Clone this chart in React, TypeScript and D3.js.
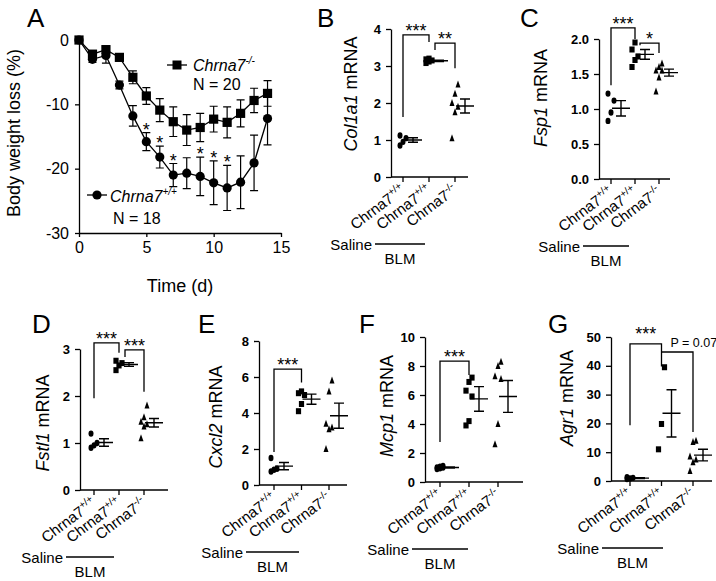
import * as d3 from "d3";
import React, { useEffect, useRef } from "react";

// ---- A: body weight loss ----
const days = [0, 1, 2, 3, 4, 5, 6, 7, 8, 9, 10, 11, 12, 13, 14];
const koLoss = [0, -2.2, -1.5, -2.7, -5.8, -8.7, -10.9, -12.7, -14.0, -13.6, -12.3, -12.8, -11.4, -9.4, -8.3];
const koSem = [0, 0.4, 0.6, 0.5, 1.0, 1.3, 1.8, 2.3, 2.4, 2.2, 2.0, 2.4, 2.1, 1.9, 2.0];
const wtLoss = [0, -3.0, -2.4, -7.0, -11.8, -15.8, -18.2, -21.0, -20.7, -21.2, -22.2, -23.0, -22.1, -19.1, -12.2];
const wtSem = [0, 0.5, 1.2, 0.6, 1.6, 1.4, 1.7, 1.8, 2.4, 3.0, 3.4, 3.5, 4.1, 4.3, 4.1];
const starDays = [5, 6, 7, 9, 10, 11];
const timeTicks = [0, 5, 10, 15];
const lossTicks = [0, -10, -20, -30];

// ---- B-G: mRNA ----
const groups = ["salWT", "blmWT", "blmKO"];
const groupSup = ["+/+", "+/+", "-/-"];
const shapes = ["circle", "square", "triangle"];

const col1a1Pts = [[0.85, 0.95, 1.05, 1.12], [3.08, 3.12, 3.15, 3.18, 3.2], [1.05, 1.75, 1.9, 2.0, 2.25, 2.5]];
const col1a1Mean = [1.0, 3.14, 1.92];
const col1a1Sem = [0.06, 0.02, 0.19];
const col1a1Sig = [
  { a: 0, b: 1, top: 3.84, l: 1.62, r: 3.65, label: "***" },
  { a: 1, b: 2, top: 3.62, l: 3.43, r: 2.94, label: "**" },
];

const fsp1Pts = [[0.83, 0.95, 1.12, 1.22], [1.6, 1.7, 1.75, 1.85, 1.95], [1.25, 1.45, 1.55, 1.55, 1.6, 1.65]];
const fsp1Mean = [1.01, 1.78, 1.52];
const fsp1Sem = [0.11, 0.07, 0.05];
const fsp1Sig = [
  { a: 0, b: 1, top: 2.16, l: 1.34, r: 2.0, label: "***" },
  { a: 1, b: 2, top: 1.94, l: 1.91, r: 1.8, label: "*" },
];

const fstl1Pts = [[0.9, 0.95, 1.0, 1.2], [2.55, 2.65, 2.7, 2.75], [1.1, 1.35, 1.4, 1.45, 1.55, 1.8]];
const fstl1Mean = [1.01, 2.67, 1.43];
const fstl1Sem = [0.08, 0.04, 0.09];
const fstl1Sig = [
  { a: 0, b: 1, top: 3.13, l: 1.95, r: 2.92, label: "***" },
  { a: 1, b: 2, top: 2.98, l: 2.83, r: 2.09, label: "***" },
];

const cxcl2Pts = [[0.75, 0.85, 0.9, 1.5], [4.1, 4.5, 5.0, 5.1, 5.2], [2.0, 3.1, 3.2, 3.4, 5.2, 5.8]];
const cxcl2Mean = [1.05, 4.77, 3.85];
const cxcl2Sem = [0.2, 0.28, 0.7];
const cxcl2Sig = [{ a: 0, b: 1, top: 6.44, l: 1.83, r: 5.7, label: "***" }];

const mcp1Pts = [[0.9, 0.95, 1.0, 1.0, 1.05, 1.1], [3.9, 4.2, 5.9, 6.3, 6.9, 7.2], [2.6, 4.0, 7.1, 7.3, 8.0, 8.3]];
const mcp1Mean = [1.0, 5.73, 5.9];
const mcp1Sem = [0.03, 0.85, 1.1];
const mcp1Sig = [{ a: 0, b: 1, top: 8.34, l: 2.76, r: 7.38, label: "***" }];

const agr1Pts = [[0.7, 0.9, 1.1, 1.3], [11, 19.8, 39.5], [3.5, 6.5, 7.5, 8.5, 13.5, 14.0]];
const agr1Mean = [1.0, 23.5, 9.0];
const agr1Sem = [0.15, 8.2, 2.0];
const agr1Sig = [
  { a: 0, b: 1, top: 47.6, l: 19.4, r: 39.8, label: "***", at: 52.5 },
  { a: 1, b: 2, top: 44.8, l: 44.8, r: 17, label: "P = 0.07" },
];

const panels = [
  { letter: "B", gene: "Col1a1", pts: col1a1Pts, mean: col1a1Mean, sem: col1a1Sem, sig: col1a1Sig, ticks: [0, 1, 2, 3, 4], fmt: "d" },
  { letter: "C", gene: "Fsp1", pts: fsp1Pts, mean: fsp1Mean, sem: fsp1Sem, sig: fsp1Sig, ticks: [0, 0.5, 1, 1.5, 2], fmt: ".1f" },
  { letter: "D", gene: "Fstl1", pts: fstl1Pts, mean: fstl1Mean, sem: fstl1Sem, sig: fstl1Sig, ticks: [0, 1, 2, 3], fmt: "d" },
  { letter: "E", gene: "Cxcl2", pts: cxcl2Pts, mean: cxcl2Mean, sem: cxcl2Sem, sig: cxcl2Sig, ticks: [0, 2, 4, 6, 8], fmt: "d" },
  { letter: "F", gene: "Mcp1", pts: mcp1Pts, mean: mcp1Mean, sem: mcp1Sem, sig: mcp1Sig, ticks: [0, 2, 4, 6, 8, 10], fmt: "d" },
  { letter: "G", gene: "Agr1", pts: agr1Pts, mean: agr1Mean, sem: agr1Sem, sig: agr1Sig, ticks: [0, 10, 20, 30, 40, 50], fmt: "d" },
];

// pixel layout of each small panel
const layout = {
  B: { left: 391, right: 468, first: 403, last: 455, top: 29, bottom: 177, lx: 317, ly: 27, yx: 357, yy: 94, shift: 6 },
  C: { left: 599, right: 670, first: 611, last: 659, top: 39, bottom: 179, lx: 520, ly: 27, yx: 547, yy: 98, shift: 5 },
  D: { left: 80, right: 168, first: 94, last: 144, top: 349, bottom: 490, lx: 32, ly: 333, yx: 49, yy: 423, shift: 6 },
  E: { left: 259, right: 347, first: 274, last: 329, top: 341, bottom: 485, lx: 198, ly: 333, yx: 222, yy: 417, shift: 0 },
  F: { left: 425, right: 523, first: 440, last: 498, top: 337, bottom: 482, lx: 359, ly: 333, yx: 393, yy: 406, shift: 0 },
  G: { left: 611, right: 712, first: 630, last: 693, top: 337, bottom: 481, lx: 548, ly: 333, yx: 573, yy: 398, shift: 0 },
};

const FONT = "Arial, 'Liberation Sans', sans-serif";

function App() {
  const ref = useRef<SVGSVGElement>(null);

  useEffect(() => draw(), []);

  function draw() {
    const svg = d3.select(ref.current);
    svg.selectAll("*").remove();
    drawWeight(svg);
    panels.forEach((p) => drawPanel(svg, p, layout[p.letter]));
  }

  function styleAxis(g, size, bold) {
    g.selectAll("path, line").attr("stroke", "#000").attr("stroke-width", 1.3);
    g.selectAll("text")
      .attr("fill", "#000")
      .attr("font-family", FONT)
      .attr("font-size", size)
      .attr("font-weight", bold ? "bold" : "normal");
  }

  function drawWeight(svg) {
    const x = d3.scaleLinear().domain([0, 15]).range([79, 281]);
    const y = d3.scaleLinear().domain([-30, 0]).range([233, 40]);
    const g = svg.append("g");

    const xa = g.append("g").attr("transform", "translate(0,233)")
      .call(d3.axisBottom(x).tickValues(timeTicks).tickSize(4).tickSizeOuter(0).tickPadding(5).tickFormat((d) => String(d)));
    styleAxis(xa, 16, false);
    const ya = g.append("g").attr("transform", "translate(79,0)")
      .call(d3.axisLeft(y).tickValues(lossTicks).tickSize(4).tickSizeOuter(0).tickPadding(6).tickFormat((d) => String(d)));
    styleAxis(ya, 16, false);

    g.append("text").attr("x", 27).attr("y", 27).attr("font-size", 26).text("A");
    g.append("text").attr("transform", "translate(20,133) rotate(-90)").attr("text-anchor", "middle")
      .attr("font-size", 18).text("Body weight loss (%)");
    g.append("text").attr("x", 180).attr("y", 292).attr("text-anchor", "middle").attr("font-size", 18).text("Time (d)");

    const series = [
      { mean: wtLoss, sem: wtSem, shape: "circle" },
      { mean: koLoss, sem: koSem, shape: "square" },
    ];
    series.forEach((s) => {
      days.forEach((d, i) => {
        if (s.sem[i] <= 0) return;
        const cx = x(d), y1 = y(s.mean[i] + s.sem[i]), y2 = y(s.mean[i] - s.sem[i]);
        g.append("path")
          .attr("d", `M${cx},${y1}V${y2}M${cx - 4},${y1}H${cx + 4}M${cx - 4},${y2}H${cx + 4}`)
          .attr("stroke", "#000").attr("stroke-width", 1.2).attr("fill", "none");
      });
      const line = d3.line<number>().x((d, i) => x(days[i])).y((d) => y(d));
      g.append("path").attr("d", line(s.mean)).attr("stroke", "#000").attr("stroke-width", 1.3).attr("fill", "none");
      days.forEach((d, i) => {
        if (s.shape === "circle") {
          g.append("circle").attr("cx", x(d)).attr("cy", y(s.mean[i])).attr("r", 4.6).attr("fill", "#000");
        } else {
          g.append("rect").attr("x", x(d) - 4.6).attr("y", y(s.mean[i]) - 4.6).attr("width", 9.2).attr("height", 9.2).attr("fill", "#000");
        }
      });
    });

    starDays.forEach((d) => {
      const i = days.indexOf(d);
      g.append("text").attr("x", x(d)).attr("y", y(wtLoss[i] + wtSem[i]) + 3)
        .attr("text-anchor", "middle").attr("font-size", 18).text("*");
    });

    // legend
    g.append("line").attr("x1", 167).attr("x2", 187).attr("y1", 65).attr("y2", 65).attr("stroke", "#000").attr("stroke-width", 1.3);
    g.append("rect").attr("x", 172.5).attr("y", 60.5).attr("width", 9).attr("height", 9).attr("fill", "#000");
    const t1 = g.append("text").attr("x", 193).attr("y", 71).attr("font-size", 16);
    t1.append("tspan").attr("font-style", "italic").text("Chrna7");
    t1.append("tspan").attr("font-style", "italic").attr("font-size", 10).attr("dy", -7).text("-/-");
    g.append("text").attr("x", 193).attr("y", 90).attr("font-size", 16).text("N = 20");

    g.append("line").attr("x1", 87).attr("x2", 107).attr("y1", 195).attr("y2", 195).attr("stroke", "#000").attr("stroke-width", 1.3);
    g.append("circle").attr("cx", 97).attr("cy", 195).attr("r", 4.6).attr("fill", "#000");
    const t2 = g.append("text").attr("x", 110).attr("y", 202).attr("font-size", 16);
    t2.append("tspan").attr("font-style", "italic").text("Chrna7");
    t2.append("tspan").attr("font-style", "italic").attr("font-size", 10).attr("dy", -7).text("+/+");
    g.append("text").attr("x", 113).attr("y", 224).attr("font-size", 16).text("N = 18");
  }

  function drawPanel(svg, p, L) {
    const x = d3.scalePoint<string>().domain(groups).range([L.first, L.last]);
    const y = d3.scaleLinear().domain([0, p.ticks[p.ticks.length - 1]]).range([L.bottom, L.top]);
    const g = svg.append("g");

    const ya = g.append("g").attr("transform", `translate(${L.left},0)`)
      .call(d3.axisLeft(y).tickValues(p.ticks).tickSize(5).tickSizeOuter(0).tickPadding(5).tickFormat(d3.format(p.fmt)));
    styleAxis(ya, 13, true);

    g.append("line").attr("x1", L.left).attr("x2", L.right).attr("y1", L.bottom).attr("y2", L.bottom)
      .attr("stroke", "#000").attr("stroke-width", 1.3);
    groups.forEach((gr, gi) => {
      const gx = x(gr);
      g.append("line").attr("x1", gx).attr("x2", gx).attr("y1", L.bottom).attr("y2", L.bottom + 5)
        .attr("stroke", "#000").attr("stroke-width", 1.3);
      const t = g.append("text").attr("transform", `translate(${gx + 3},${L.bottom + 15}) rotate(-37)`)
        .attr("text-anchor", "end").attr("font-size", 15);
      t.append("tspan").text("Chrna7");
      t.append("tspan").attr("font-size", 10).attr("dy", -6).text(groupSup[gi]);

      // points
      p.pts[gi].forEach((v, i) => {
        const px = gx + ((i % 3) - 1) * 3;
        const py = y(v);
        if (shapes[gi] === "circle") {
          g.append("ellipse").attr("cx", px).attr("cy", py).attr("rx", 2.5).attr("ry", 3.2).attr("fill", "#000");
        } else if (shapes[gi] === "square") {
          g.append("rect").attr("x", px - 2.6).attr("y", py - 3).attr("width", 5.2).attr("height", 6).attr("fill", "#000");
        } else {
          g.append("path").attr("d", `M${px},${py - 4}L${px + 2.5},${py + 3}L${px - 2.5},${py + 3}Z`).attr("fill", "#000");
        }
      });

      // mean +/- sem
      const mx = gx + 10;
      const m = y(p.mean[gi]), hi = y(p.mean[gi] + p.sem[gi]), lo = y(p.mean[gi] - p.sem[gi]);
      g.append("path")
        .attr("d", `M${mx - 9},${m}H${mx + 9}M${mx},${hi}V${lo}M${mx - 5},${hi}H${mx + 5}M${mx - 5},${lo}H${mx + 5}`)
        .attr("stroke", "#000").attr("stroke-width", 1.4).attr("fill", "none");
    });

    // significance brackets
    p.sig.forEach((s, si) => {
      const xa = x(groups[s.a]) + (si > 0 ? L.shift : 0);
      const xb = x(groups[s.b]);
      g.append("path")
        .attr("d", `M${xa},${y(s.l)}V${y(s.top)}H${xb}V${y(s.r)}`)
        .attr("stroke", "#000").attr("stroke-width", 1.3).attr("fill", "none");
      if (s.label.startsWith("*")) {
        const ly = s.at !== undefined ? y(s.at) + 10 : y(s.top) + 2;
        g.append("text").attr("x", (xa + xb) / 2).attr("y", ly).attr("text-anchor", "middle")
          .attr("font-size", 18).text(s.label);
      } else {
        g.append("text").attr("x", xa + 9).attr("y", y(s.top) - 5).attr("font-size", 12.5).text(s.label);
      }
    });

    // Saline / BLM
    const ls = x(groups[0]) - 28, le = x(groups[2]) - 30, lyy = L.bottom + 67;
    g.append("line").attr("x1", ls).attr("x2", le).attr("y1", lyy).attr("y2", lyy).attr("stroke", "#000").attr("stroke-width", 1.3);
    g.append("text").attr("x", ls - 3).attr("y", lyy + 6).attr("text-anchor", "end").attr("font-size", 15).text("Saline");
    g.append("text").attr("x", (ls + le) / 2).attr("y", lyy + 20).attr("text-anchor", "middle").attr("font-size", 15).text("BLM");

    // labels
    g.append("text").attr("x", L.lx).attr("y", L.ly).attr("font-size", 26).text(p.letter);
    const yl = g.append("text").attr("transform", `translate(${L.yx},${L.yy}) rotate(-90)`)
      .attr("text-anchor", "middle").attr("font-size", 18);
    yl.append("tspan").attr("font-style", "italic").text(p.gene);
    yl.append("tspan").text(" mRNA");
  }

  return (
    <svg
      ref={ref}
      width={716}
      height={581}
      style={{ position: "absolute", left: 0, top: 0, background: "#fff", fontFamily: FONT }}
    />
  );
}

export default App;
